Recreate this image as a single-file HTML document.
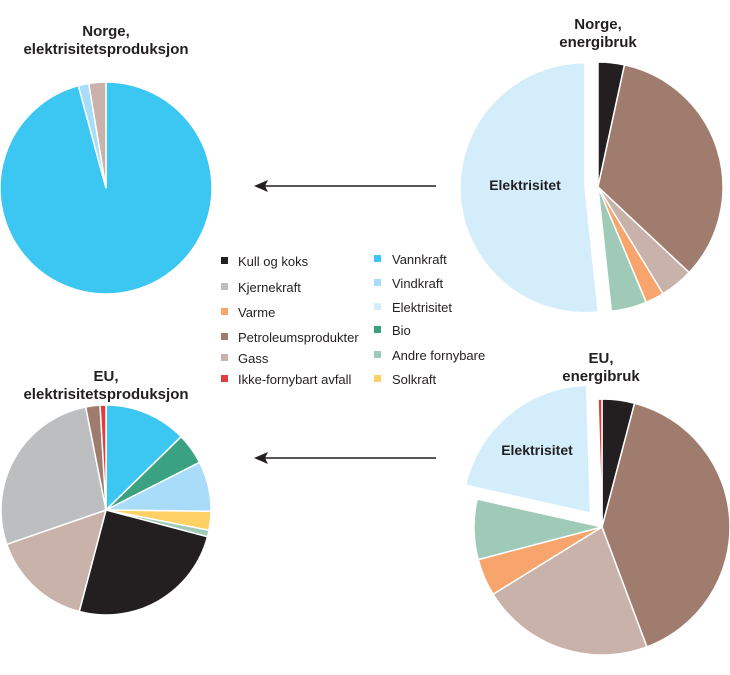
<!DOCTYPE html>
<html><head><meta charset="utf-8"><style>
body{margin:0;background:#fff;width:730px;height:670px;overflow:hidden;font-family:"Liberation Sans",sans-serif}
svg text{font-family:"Liberation Sans",sans-serif}
</style></head><body>
<svg id="chart" width="730" height="670" viewBox="0 0 730 670" xmlns="http://www.w3.org/2000/svg">
<g font-weight="bold" font-size="15" fill="#231f20" text-anchor="middle">
<text x="106" y="36">Norge,<tspan x="106" dy="18">elektrisitetsproduksjon</tspan></text>
<text x="598" y="29">Norge,<tspan x="598" dy="18">energibruk</tspan></text>
<text x="106" y="381">EU,<tspan x="106" dy="18">elektrisitetsproduksjon</tspan></text>
<text x="601" y="363">EU,<tspan x="601" dy="18">energibruk</tspan></text>
</g>
<g>
<line x1="436" y1="186" x2="262" y2="186" stroke="#231f20" stroke-width="1.5"/>
<path d="M254,186 L268,180 L265,186 L268,192 Z" fill="#231f20"/>
</g>
<g>
<line x1="436" y1="458" x2="262" y2="458" stroke="#231f20" stroke-width="1.5"/>
<path d="M254,458 L268,452 L265,458 L268,464 Z" fill="#231f20"/>
</g>
<g id="pies"></g>
<g id="legend" font-size="13" fill="#231f20"></g>
</svg>
<script>
const colors = {kull:'#231f20',kjerne:'#bcbec0',varme:'#f7a46d',petro:'#a07c6e',gass:'#c9b2a9',avfall:'#e23b3b',vann:'#3cc6f2',vind:'#a8dcf8',elektr:'#d3edfb',bio:'#3aa280',andre:'#9fcab8',sol:'#fdd163'};
const legendLabels = ['Kull og koks','Kjernekraft','Varme','Petroleumsprodukter','Gass','Ikke-fornybart avfall','Vannkraft','Vindkraft','Elektrisitet','Bio','Andre fornybare','Solkraft'];
const legendKeys = ['kull','kjerne','varme','petro','gass','avfall','vann','vind','elektr','bio','andre','sol'];
const norgeProdKeys = ['vann','vind','gass'];
const norgeProdValues = [95.8,1.6,2.6];
const norgeUseKeys = ['kull','petro','gass','varme','andre','elektr'];
const norgeUseValues = [3.4,33.6,4.3,2.4,4.6,51.7];
const euProdKeys = ['vann','bio','vind','sol','andre','kull','gass','kjerne','petro','avfall'];
const euProdValues = [12.7,4.8,7.7,2.9,1.0,25.0,15.6,27.2,2.2,0.9];
const euUseKeys = ['kull','petro','gass','varme','andre','elektr','avfall'];
const euUseValues = [4.1,40.2,21.9,4.7,7.6,21.0,0.5];

const NS='http://www.w3.org/2000/svg';
const pies=document.getElementById('pies');
function pt(cx,cy,r,a){const t=a*Math.PI/180;return [cx+r*Math.sin(t),cy-r*Math.cos(t)];}
function drawPie(name,keys,values,cx,cy,r,explodeKey,explode,label){
  const total=values.reduce((a,b)=>a+b,0);
  let acc=0;
  const g=document.createElementNS(NS,'g');
  
  
  pies.appendChild(g);
  keys.forEach((k,i)=>{
    const a0=acc/total*360; acc+=values[i]; const a1=acc/total*360;
    let ox=0,oy=0;
    if(k===explodeKey){const m=(a0+a1)/2*Math.PI/180;ox=explode*Math.sin(m);oy=-explode*Math.cos(m);}
    const p0=pt(cx+ox,cy+oy,r,a0),p1=pt(cx+ox,cy+oy,r,a1);
    const large=(a1-a0)>180?1:0;
    const p=document.createElementNS(NS,'path');
    p.setAttribute('d',`M${cx+ox},${cy+oy} L${p0[0]},${p0[1]} A${r},${r} 0 ${large} 1 ${p1[0]},${p1[1]} Z`);
    p.setAttribute('fill',colors[k]);
    p.setAttribute('stroke','#fff');
    p.setAttribute('stroke-width','1.5');
    
    
    g.appendChild(p);
  });
  if(label){
    const t=document.createElementNS(NS,'text');
    t.setAttribute('x',label[0]);t.setAttribute('y',label[1]);
    t.setAttribute('font-weight','bold');t.setAttribute('font-size','14');t.setAttribute('fill','#231f20');
    t.setAttribute('text-anchor','middle');
    
    
    t.textContent='Elektrisitet';
    g.appendChild(t);
  }
}
drawPie('pie-norge-production',norgeProdKeys,norgeProdValues,106,188,106);
drawPie('pie-norge-consumption',norgeUseKeys,norgeUseValues,598,187,125,'elektr',13,[525,190]);
drawPie('pie-eu-production',euProdKeys,euProdValues,106,510,105);
drawPie('pie-eu-consumption',euUseKeys,euUseValues,602,527,128,'elektr',18,[537,455]);

const lg=document.getElementById('legend');
legendLabels.forEach((lab,i)=>{
  const col=i<6?0:1, row=i%6;
  const ysL=[266,292,317,342,363,384], ysR=[264,288,312,335,360,384];
  const y=col?ysR[row]:ysL[row];
  const sx=col?374:221, tx=col?392:238;
  const e=document.createElementNS(NS,'g');
  
  
  const r=document.createElementNS(NS,'rect');
  r.setAttribute('x',sx);r.setAttribute('y',y-9);r.setAttribute('width',7);r.setAttribute('height',7);
  r.setAttribute('fill',colors[legendKeys[i]]);
  const t=document.createElementNS(NS,'text');
  t.setAttribute('x',tx);t.setAttribute('y',y);t.textContent=lab;
  e.appendChild(r);e.appendChild(t);lg.appendChild(e);
});
</script>
</body></html>
